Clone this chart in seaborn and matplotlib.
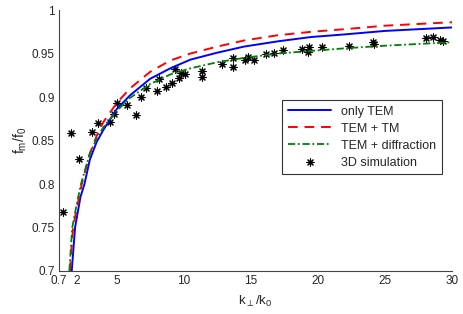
import numpy as np
import pandas as pd
import matplotlib
matplotlib.use("Agg")
import matplotlib.pyplot as plt
import seaborn as sns

# curves (k_perp/k_0 -> f_m/f_0)
k_tem = [1.65, 1.9, 2.3, 2.6, 3.0, 3.5, 4.0, 5.0, 6.0, 7.5, 9.0, 10.5, 12.5, 14.5, 17.0, 19.5, 22.0, 25.0, 30.0]
f_tem = [0.700, 0.750, 0.785, 0.800, 0.828, 0.848, 0.862, 0.886, 0.902, 0.921, 0.933, 0.943, 0.951, 0.958,
         0.964, 0.969, 0.972, 0.976, 0.980]

k_tm = [1.52, 1.75, 2.0, 2.4, 3.0, 3.5, 4.0, 5.0, 6.0, 7.5, 9.0, 10.5, 12.5, 14.5, 17.0, 19.5, 22.0, 25.0, 30.0]
f_tm = [0.700, 0.750, 0.770, 0.800, 0.835, 0.855, 0.871, 0.893, 0.910, 0.929, 0.942, 0.950, 0.958, 0.965,
        0.971, 0.975, 0.978, 0.982, 0.986]

k_diff = [1.47, 1.69, 2.0, 2.34, 3.0, 3.5, 4.0, 5.0, 6.0, 7.5, 9.0, 10.5, 12.5, 14.5, 17.0, 19.5, 22.0, 25.0, 30.0]
f_diff = [0.700, 0.750, 0.775, 0.800, 0.835, 0.852, 0.865, 0.884, 0.899, 0.915, 0.926, 0.933, 0.940, 0.945,
          0.950, 0.953, 0.956, 0.959, 0.963]

# 3D simulation points
k_sim = [1.00, 1.60, 2.19, 3.16, 3.61, 4.50, 4.80, 5.03, 5.77, 6.44, 6.81, 7.19, 8.01, 8.19, 8.68, 9.13,
         9.35, 9.67, 9.83, 10.13, 11.34, 11.34, 12.83, 13.64, 13.64, 14.57, 14.82, 15.24, 16.16, 16.76,
         17.38, 18.80, 19.37, 19.29, 20.29, 22.35, 24.09, 24.15, 28.07, 28.61, 29.11, 29.31]
f_sim = [0.768, 0.859, 0.829, 0.860, 0.870, 0.871, 0.880, 0.893, 0.891, 0.879, 0.900, 0.910, 0.907, 0.921,
         0.911, 0.916, 0.932, 0.922, 0.928, 0.926, 0.930, 0.923, 0.938, 0.945, 0.935, 0.943, 0.946, 0.942,
         0.949, 0.951, 0.954, 0.955, 0.957, 0.952, 0.958, 0.959, 0.9636, 0.9615, 0.9675, 0.969, 0.966, 0.964]

x_ticks = [0.7, 2, 5, 10, 15, 20, 25, 30]
x_ticklabels = ["0.7", "2", "5", "10", "15", "20", "25", "30"]
y_ticks = [0.7, 0.75, 0.8, 0.85, 0.9, 0.95, 1.0]
y_ticklabels = ["0.7", "0.75", "0.8", "0.85", "0.9", "0.95", "1"]

sns.set_style("white")
plt.rcParams["font.family"] = ["Liberation Sans", "DejaVu Sans"]
plt.rcParams["xtick.direction"] = "in"
plt.rcParams["ytick.direction"] = "in"

fig = plt.figure(figsize=(4.63, 3.14), dpi=100)
ax = fig.add_axes([0.1274, 0.137, 0.8488, 0.831])

sns.lineplot(x=k_tem, y=f_tem, ax=ax, color="#0000ff", lw=1.4, label="only TEM")
sns.lineplot(x=k_tm, y=f_tm, ax=ax, color="#ff0000", lw=1.4, label="TEM + TM",
             linestyle=(0, (5, 3.5)))
sns.lineplot(x=k_diff, y=f_diff, ax=ax, color="#008000", lw=1.3, label="TEM + diffraction",
             linestyle=(0, (4, 1.5, 1, 1.5)))
sns.scatterplot(x=k_sim, y=f_sim, ax=ax, marker=(8, 2, 0), s=26, color="black", edgecolor="black",
                linewidth=0.8, label="3D simulation")

ax.set_xlim(0.7, 30)
ax.set_ylim(0.7, 1.0)
ax.set_xticks(x_ticks)
ax.set_xticklabels(x_ticklabels)
ax.set_yticks(y_ticks)
ax.set_yticklabels(y_ticklabels)
ax.tick_params(labelsize=8.5, length=3, width=0.8, color="#444444", pad=3)

for side in ["top", "right"]:
    ax.spines[side].set_visible(False)
for side in ["left", "bottom"]:
    ax.spines[side].set_color("#444444")
    ax.spines[side].set_linewidth(0.8)

ax.set_xlabel(r"$\mathregular{k_\perp/k_0}$", fontsize=9.5, labelpad=5)
ax.set_ylabel(r"$\mathregular{f_m/f_0}$", fontsize=10, labelpad=2)

leg = ax.legend(loc="upper right", bbox_to_anchor=(0.975, 0.655), borderaxespad=0, fontsize=9,
                frameon=True, fancybox=False, edgecolor="black", handlelength=3.5, borderpad=0.45,
                labelspacing=0.4)
leg.get_frame().set_linewidth(0.8)

fig.savefig("out.png", dpi=100)
